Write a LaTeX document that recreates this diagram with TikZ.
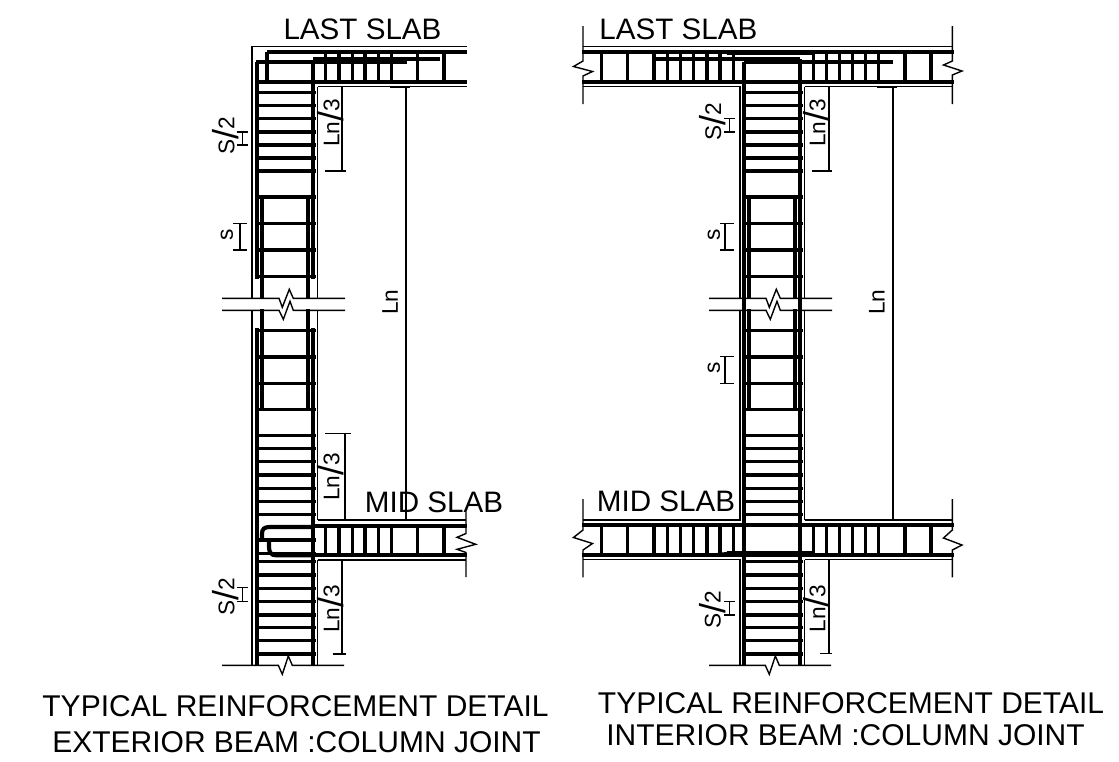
\documentclass[tikz,border=0pt]{standalone}
\usepackage{fontspec}
\setmainfont{Liberation Sans}
\newcommand{\bigslash}{\raisebox{-3.4pt}{\fontsize{27}{27}\selectfont /}}
\tikzset{
  thin line/.style={line width=1.05pt,black},
  rebar/.style={line width=3.1pt,black},
  tie/.style={line width=2.5pt,black},
  dimline/.style={line width=1.05pt,black},
  title/.style={inner sep=0pt,font=\fontsize{22.2}{24}\selectfont},
  caption/.style={inner sep=0pt,font=\fontsize{22.5}{24}\selectfont},
  dimtext/.style={inner sep=0pt,rotate=90,font=\fontsize{17}{20}\selectfont},
}
\newcommand{\columnbars}[1]{%
  \begin{scope}[xshift=#1*0.75pt]
  % ties
  \foreach \yy in {92.3,105.7,118.7,132,145,158,171,197,223.3,250,276.3,330.7,357,383.3,409.3,435.7,448.3,461.7,475,488.3,501.7,514.3,561.7,575,588.3,601.7,615,627.3,640.7,654}
    \draw[tie] (257,\yy) -- (315.5,\yy);
  % outer and inner bars
  \draw[rebar] (257,62) -- (257,279) (257,328) -- (257,665);
  \draw[rebar] (313,60) -- (313,279) (313,328) -- (313,665);
  \draw[rebar] (261.7,197) -- (261.7,299) (261.7,309) -- (261.7,409);
  \draw[rebar] (307.7,197) -- (307.7,299) (307.7,309) -- (307.7,409);
  % break lines
  \draw[thin line] (222,298.3) -- (279,298.3) -- (282.3,307.3) -- (289.3,289.3) -- (293.3,298.3) -- (345,298.3);
  \draw[thin line] (222,310.3) -- (279,310.3) -- (283.3,319.3) -- (290,301.3) -- (293.3,310.3) -- (345,310.3);
  \draw[thin line] (222,665.3) -- (278.3,665.3) -- (282.3,674.3) -- (288.3,656) -- (292.3,665.3) -- (344,665.3);
  % column faces below the top slab
  \draw[thin line] (317.7,86.7) -- (317.7,298.3) (317.7,310.3) -- (317.7,520) (317.7,560) -- (317.7,665.3);
  % dimensions
  \draw[dimline] (406,86.7) -- (406,520);
  \draw[line width=1.6pt] (390,86.7) -- (410,86.7);
  \end{scope}}
\begin{document}
\begin{tikzpicture}[x=0.75pt,y=-0.75pt]
\useasboundingbox (0,0) rectangle (1119,761);
\fill[white] (0,0) rectangle (1119,761);

\columnbars{0}
\columnbars{487}

% ---------- left detail ----------
\draw[thin line] (467,46.7) -- (252,46.7) -- (252,298.3) (252,310.3) -- (252,665.3);
\draw[thin line] (317.7,86.7) -- (467,86.7);
\draw[rebar] (267,52.3) -- (467,52.3);
\draw[rebar] (255.6,81.7) -- (467,81.7);
\draw[rebar] (255.6,62) -- (406.7,62);
\draw[rebar] (313,59) -- (440,59);
\draw[tie] (267,52) -- (267,82);
\foreach \xx in {325.7,339,352.3,365,378.3,391.7,417.7,444}
  \draw[tie] (\xx,52) -- (\xx,82);
% left mid slab
\draw[thin line] (317.7,520) -- (466,520);
\draw[thin line] (317.7,560) -- (466,560);
\draw[rebar] (313,526) -- (467,526);
\draw[rebar] (313,555.3) -- (467,555.3);
\draw[rebar] (313,527) -- (270,527) .. controls (264,527) and (262,529) .. (262,534) -- (262,541);
\draw[rebar] (313,555.3) -- (276,555.3) .. controls (271,555.3) and (269,552) .. (269,547) -- (269,541);
\draw[tie] (257,540) -- (315.5,540);
\draw[tie] (257,553.3) -- (315.5,553.3);
\foreach \xx in {325.7,339,352.3,365,378.3,391.7,417.7,444}
  \draw[tie] (\xx,526) -- (\xx,555);
\draw[thin line] (466,512) -- (466,533.5) -- (457,537.3) -- (475.7,544.3) -- (457,549.3) -- (466,552.5) -- (466,577);

\draw[dimline] (342,86.7) -- (342,171) (325,171) -- (346,171);
\draw[dimline] (345,433.3) -- (345,520) (325,433.3) -- (350.7,433.3);
\draw[dimline] (342,560) -- (342,654) (332.7,654) -- (346,654);
\draw[dimline] (242.3,132) -- (242.3,145) (236.7,132) -- (248,132) (236.7,145) -- (248,145);
\draw[dimline] (242.3,587.3) -- (242.3,601.7) (236.7,587.3) -- (248,587.3) (236.7,601.7) -- (248,601.7);
\draw[dimline] (240,223.3) -- (240,250) (233.3,223.3) -- (247,223.3) (233.3,250) -- (247,250);

\node[title] (t1) at (362.5,29) {LAST SLAB};
\node[title] (t2) at (434,502) {MID SLAB};
\node[dimtext] (a1) at (226,136) {S\bigslash 2};
\node[dimtext] (a2) at (226,597) {S\bigslash 2};
\node[dimtext] (a3) at (227,235) {s};
\node[dimtext] (a4) at (331,123) {Ln\bigslash 3};
\node[dimtext] (a5) at (331,477) {Ln\bigslash 3};
\node[dimtext] (a6) at (331,609) {Ln\bigslash 3};
\node[dimtext] (a7) at (390,302) {Ln};
\node[caption] (c1) at (295.5,706) {TYPICAL REINFORCEMENT DETAIL};
\node[caption] (c2) at (296.5,742) {EXTERIOR BEAM :COLUMN JOINT};

% ---------- right detail ----------
\draw[thin line] (583,46.7) -- (952,46.7);
\draw[thin line] (583,86.7) -- (740,86.7) -- (740,298.3) (740,310.3) -- (740,520) -- (583,520);
\draw[thin line] (804.7,86.7) -- (952,86.7);
\draw[thin line] (804.7,520) -- (952,520);
\draw[thin line] (583,559.5) -- (740,559.5) -- (740,665.3);
\draw[thin line] (804.7,559.5) -- (952,559.5);
\draw[rebar] (582,52.3) -- (954,52.3);
\draw[rebar] (582,81.7) -- (954,81.7);
\draw[rebar] (727,52.5) -- (815,52.5);
\draw[line width=1.6pt] (708,51) -- (727,53);
\draw[rebar] (651.7,59) -- (800,59);
\draw[rebar] (744,62) -- (893,62);
\draw[rebar] (582,525) -- (954,525);
\draw[rebar] (582,554.7) -- (954,554.7);
\draw[rebar] (727,553) -- (815,553);
\draw[line width=1.6pt] (708,555) -- (727,553);
\draw[rebar] (744,86) -- (744,525) (800,86) -- (800,525);
\foreach \xx in {601.7,627.7,654,667.3,680.7,693.7,707,720,733.3,813.3,826.7,839.3,852.7,865.7,878.3,905,931}{
  \draw[tie] (\xx,52) -- (\xx,82);
  \draw[tie] (\xx,525) -- (\xx,555);
}
\draw[rebar] (744,62) -- (744,82) (800,59) -- (800,82);
\draw[rebar] (744,525) -- (744,555) (800,525) -- (800,555);
\draw[thin line] (583,26) -- (583,61) -- (573.5,66.5) -- (592.5,71.5) -- (583,76) -- (583,104);
\draw[thin line] (952.3,26) -- (952.3,61) -- (943.5,65) -- (962,71) -- (952.3,75) -- (952.3,104);
\draw[thin line] (583,499) -- (583,530) -- (573.5,537.5) -- (592.5,543.5) -- (583,550) -- (583,577.3);
\draw[thin line] (952.3,499) -- (952.3,530) -- (943.5,538) -- (962,545) -- (952.3,550) -- (952.3,577.3);

\draw[dimline] (829,86.7) -- (829,171) (811.7,171) -- (832.3,171);
\draw[dimline] (829,560) -- (829,653.7) (820,653.7) -- (832.3,653.7);
\draw[dimline] (729.3,118.7) -- (729.3,132) (724,118.7) -- (735,118.7) (724,132) -- (735,132);
\draw[dimline] (729.3,601.7) -- (729.3,615) (724,601.7) -- (735,601.7) (724,615) -- (735,615);
\draw[dimline] (725,223.3) -- (725,250) (720,223.3) -- (734.3,223.3) (720,250) -- (734.3,250);
\draw[dimline] (725,356.7) -- (725,383.3) (720,356.7) -- (734.3,356.7) (720,383.3) -- (734.3,383.3);

\node[title] (t3) at (678.4,29) {LAST SLAB};
\node[title] (t4) at (666,501) {MID SLAB};
\node[dimtext] (b1) at (712.7,122) {S\bigslash 2};
\node[dimtext] (b2) at (712.3,609.5) {S\bigslash 2};
\node[dimtext] (b3) at (714,235) {s};
\node[dimtext] (b4) at (714,368) {s};
\node[dimtext] (b5) at (817,123) {Ln\bigslash 3};
\node[dimtext] (b6) at (817,608.5) {Ln\bigslash 3};
\node[dimtext] (b7) at (876.7,302) {Ln};
\node[caption] (c3) at (851,703) {TYPICAL REINFORCEMENT DETAIL};
\node[caption] (c4) at (845.5,735) {INTERIOR BEAM :COLUMN JOINT};
\end{tikzpicture}
\end{document}
